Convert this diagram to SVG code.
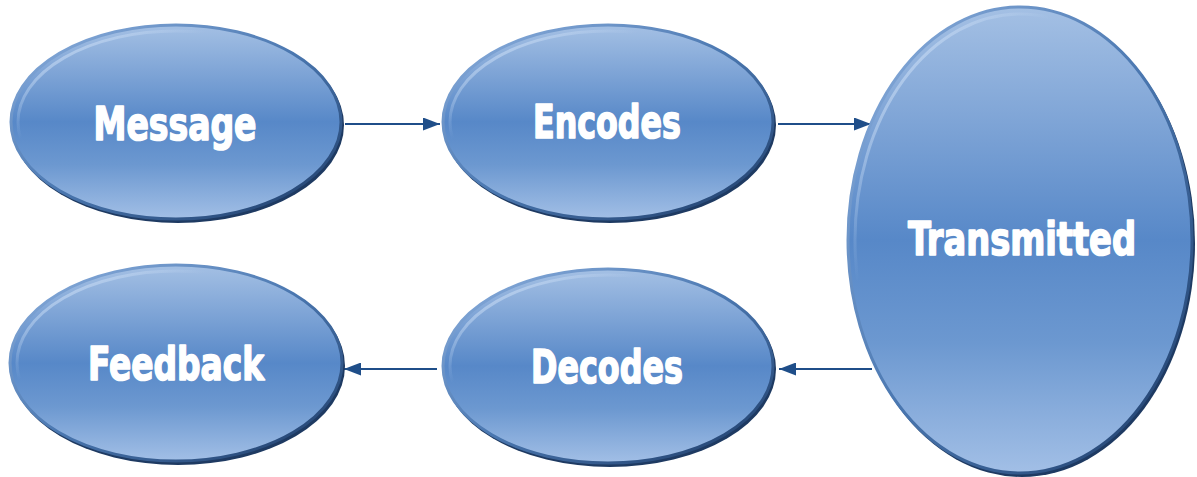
<svg xmlns="http://www.w3.org/2000/svg" width="1197" height="477" viewBox="0 0 1197 477">
<style>
.rim{fill:#1e3a62}
.body{fill:url(#fillG);stroke:url(#edgeG);stroke-width:3}
.hl{fill:none;stroke:url(#hlG);stroke-width:3}
.lbl{font-family:"DejaVu Sans Condensed","DejaVu Sans",sans-serif;font-weight:bold;fill:#ffffff;stroke:#ffffff;stroke-width:1.6;stroke-linejoin:round;text-anchor:middle}
.conn{stroke:#1f4e89;stroke-width:2;fill:none;marker-end:url(#arr)}
</style>
<defs>
<linearGradient id="fillG" x1="0" y1="0" x2="0" y2="1">
<stop offset="0" stop-color="#a4c0e4"/>
<stop offset="0.25" stop-color="#7ea4d6"/>
<stop offset="0.5" stop-color="#5788c8"/>
<stop offset="0.72" stop-color="#6c98d0"/>
<stop offset="1" stop-color="#a2bfe6"/>
</linearGradient>
<linearGradient id="edgeG" x1="0" y1="0" x2="1" y2="1">
<stop offset="0" stop-color="#8fb2e0"/>
<stop offset="0.5" stop-color="#4a77b0"/>
<stop offset="1" stop-color="#1c3a66"/>
</linearGradient>
<linearGradient id="hlG" x1="0" y1="0" x2="0.6" y2="0.6">
<stop offset="0" stop-color="#d6e6fa" stop-opacity="0.9"/>
<stop offset="0.5" stop-color="#d6e6fa" stop-opacity="0"/>
</linearGradient>
<marker id="arr" markerWidth="17" markerHeight="13" refX="17" refY="6.5" orient="auto" markerUnits="userSpaceOnUse">
<path d="M0,0 L17,6.5 L0,13 Z" fill="#1f4e89"/>
</marker>
</defs>
<g id="connectors">
<line class="conn" x1="345" y1="124" x2="440" y2="124"/>
<line class="conn" x1="778" y1="124" x2="871" y2="124"/>
<line class="conn" x1="872" y1="369" x2="779" y2="369"/>
<line class="conn" x1="437" y1="369" x2="344" y2="369"/>
</g>
<g id="message">
<ellipse class="rim" cx="178" cy="125" rx="166" ry="98"/>
<ellipse class="body" cx="176" cy="122" rx="165" ry="97"/>
<ellipse class="hl" cx="176" cy="122" rx="158" ry="91"/>
<text class="lbl" x="175" y="140" font-size="46" textLength="163" lengthAdjust="spacingAndGlyphs">Message</text>
</g>
<g id="encodes">
<ellipse class="rim" cx="610" cy="125" rx="166" ry="98"/>
<ellipse class="body" cx="608" cy="122" rx="165" ry="97"/>
<ellipse class="hl" cx="608" cy="122" rx="158" ry="91"/>
<text class="lbl" x="607" y="138" font-size="46" textLength="148" lengthAdjust="spacingAndGlyphs">Encodes</text>
</g>
<g id="transmitted">
<ellipse class="rim" cx="1022" cy="243" rx="173" ry="234"/>
<ellipse class="body" cx="1020" cy="240" rx="172" ry="233"/>
<ellipse class="hl" cx="1020" cy="240" rx="165" ry="226"/>
<text class="lbl" x="1022" y="255" font-size="46" textLength="228" lengthAdjust="spacingAndGlyphs">Transmitted</text>
</g>
<g id="decodes">
<ellipse class="rim" cx="610" cy="369" rx="166" ry="98"/>
<ellipse class="body" cx="608" cy="366" rx="165" ry="97"/>
<ellipse class="hl" cx="608" cy="366" rx="158" ry="91"/>
<text class="lbl" x="607" y="383" font-size="46" textLength="152" lengthAdjust="spacingAndGlyphs">Decodes</text>
</g>
<g id="feedback">
<ellipse class="rim" cx="178" cy="366" rx="167" ry="99"/>
<ellipse class="body" cx="176" cy="363" rx="166" ry="98"/>
<ellipse class="hl" cx="176" cy="363" rx="159" ry="92"/>
<text class="lbl" x="176" y="380" font-size="46" textLength="176" lengthAdjust="spacingAndGlyphs">Feedback</text>
</g>
</svg>
